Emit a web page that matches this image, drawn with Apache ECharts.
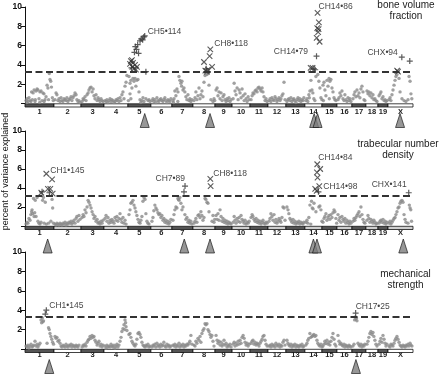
<!DOCTYPE html>
<html><head><meta charset="utf-8">
<script src="https://cdn.jsdelivr.net/npm/echarts@6/dist/echarts.min.js"></script>
<style>html,body{margin:0;padding:0;background:#fff}#c{width:440px;height:375px}</style>
</head><body><div id="c"></div>
<script>
// ---------- DATA ----------
const chrNames = ['1','2','3','4','5','6','7','8','9','10','11','12','13','14','15','16','17','18','19','X'];
const chrLenMb = [197,184,156,163,156,143,143,150,116,122,122,122,129,116,102,102,95,82,68,170];
const yTickStep = 2;
const thresholds = [3.3, 3.2, 3.3];
const panelTitles = ['bone volume\nfraction', 'trabecular number\ndensity', 'mechanical\nstrength'];
const yAxisTitle = 'percent of variance explained';

// [chromosome (20 = X), position Mb, % variance explained]
const bvfDots = [
[1,7,0.3],[1,14,0.5],[1,20,0.2],[1,27,0.6],[1,34,0.3],[1,45,1.2],[1,50,0.4],[1,55,1.1],[1,62,1.4],[1,68,0.2],[1,75,1.3],[1,82,1.5],[1,88,1.4],[1,95,0.5],[1,102,1.2],[1,109,1.3],[1,116,0.3],[1,122,1.1],[1,129,1.0],[1,136,0.4],[1,143,0.7],[1,150,1.9],[1,156,1.6],[1,165,3.1],[1,170,2.5],[1,175,2.3],[1,180,1.7],[1,186,0.6],[1,192,0.3],[1,12,0.1],[1,40,0.2],[1,70,0.4],[1,100,0.1],[1,130,0.2],[1,160,0.4],
[2,7,0.4],[2,14,1.1],[2,20,0.9],[2,27,0.3],[2,34,0.5],[2,41,0.2],[2,48,0.6],[2,54,0.3],[2,61,0.2],[2,68,0.5],[2,75,0.4],[2,82,0.3],[2,88,0.6],[2,95,0.2],[2,102,0.4],[2,109,0.5],[2,116,0.7],[2,122,0.3],[2,129,0.6],[2,136,0.8],[2,143,1.1],[2,150,0.9],[2,156,0.4],[2,163,0.2],[2,170,0.3],[2,177,0.1],
[3,7,0.2],[3,14,0.5],[3,20,0.4],[3,27,0.7],[3,34,0.3],[3,41,0.9],[3,48,1.1],[3,54,1.4],[3,61,1.6],[3,68,1.7],[3,75,1.2],[3,82,1.5],[3,88,0.8],[3,95,0.5],[3,102,0.9],[3,109,0.3],[3,116,0.6],[3,122,0.4],[3,129,0.2],[3,136,0.5],[3,143,0.3],[3,150,0.2],
[4,7,0.3],[4,14,0.2],[4,20,0.4],[4,27,0.1],[4,34,0.3],[4,41,0.5],[4,48,0.2],[4,54,0.4],[4,61,0.3],[4,68,0.1],[4,75,0.2],[4,82,0.4],[4,88,0.3],[4,95,0.5],[4,102,0.2],[4,109,0.6],[4,116,0.3],[4,122,0.9],[4,129,1.2],[4,136,0.5],[4,143,1.8],[4,150,2.2],[4,156,2.9],
[5,7,2.8],[5,14,2.1],[5,20,2.4],[5,27,1.6],[5,34,2.6],[5,41,2.3],[5,48,2.6],[5,54,1.8],[5,61,2.4],[5,68,2.5],[5,75,1.2],[5,14,1.0],[5,82,0.4],[5,95,0.3],[5,109,0.2],[5,122,0.5],[5,136,0.3],[5,150,0.2],[5,102,0.6],[5,88,0.1],[5,143,0.4],[5,20,0.5],[5,3,0.3],
[6,7,0.3],[6,14,0.5],[6,20,0.2],[6,27,0.4],[6,34,0.1],[6,41,0.6],[6,48,0.3],[6,54,0.2],[6,61,0.4],[6,68,0.5],[6,75,0.3],[6,82,0.2],[6,88,0.4],[6,95,0.6],[6,102,0.3],[6,109,0.1],[6,116,0.4],[6,122,0.3],[6,129,0.2],[6,136,0.5],
[7,7,0.3],[7,14,0.5],[7,20,1.3],[7,27,0.8],[7,34,1.5],[7,41,1.2],[7,48,2.8],[7,54,2.4],[7,61,2.1],[7,66,1.8],[7,68,2.3],[7,75,1.4],[7,82,1.6],[7,88,1.2],[7,95,0.7],[7,102,0.4],[7,109,0.9],[7,116,0.3],[7,122,0.5],[7,129,0.2],[7,136,0.4],[7,10,0.1],[7,40,0.2],
[8,7,0.3],[8,14,0.6],[8,20,1.2],[8,27,0.4],[8,34,0.8],[8,41,1.6],[8,48,0.5],[8,54,0.9],[8,61,1.3],[8,68,0.7],[8,75,2.2],[8,82,2.9],[8,95,3.0],[8,102,3.1],[8,109,1.9],[8,122,0.4],[8,136,0.2],[8,143,0.5],[8,148,0.3],
[9,7,1.4],[9,14,1.6],[9,20,0.8],[9,27,1.2],[9,34,0.5],[9,41,1.1],[9,48,0.3],[9,54,0.7],[9,61,0.9],[9,68,0.4],[9,75,0.2],[9,82,0.5],[9,88,0.3],[9,95,0.6],[9,102,0.2],[9,109,0.4],
[10,7,0.5],[10,14,2.1],[10,20,1.3],[10,27,0.9],[10,34,1.6],[10,41,0.4],[10,48,1.4],[10,54,1.1],[10,61,0.6],[10,68,1.5],[10,75,0.8],[10,82,0.3],[10,88,1.0],[10,95,0.5],[10,102,0.2],[10,109,0.7],[10,116,0.4],
[11,7,0.4],[11,14,0.8],[11,20,1.1],[11,27,1.0],[11,34,1.3],[11,41,1.4],[11,48,1.2],[11,54,1.6],[11,61,1.7],[11,68,1.5],[11,75,1.3],[11,82,1.6],[11,88,1.2],[11,95,0.7],[11,102,0.3],[11,109,0.5],[11,116,0.2],
[12,7,0.3],[12,14,0.5],[12,20,0.2],[12,27,0.6],[12,34,0.4],[12,41,0.3],[12,48,0.7],[12,54,0.5],[12,61,0.2],[12,68,0.4],[12,75,0.6],[12,82,0.3],[12,88,0.5],[12,95,0.8],[12,102,1.0],[12,109,2.2],[12,116,0.4],
[13,7,0.2],[13,14,0.4],[13,20,0.5],[13,27,0.3],[13,34,0.6],[13,41,0.2],[13,48,0.4],[13,54,0.5],[13,61,0.3],[13,68,0.1],[13,75,0.4],[13,82,0.6],[13,88,0.3],[13,95,0.5],[13,102,0.2],[13,109,0.4],[13,116,0.3],[13,122,0.6],
[14,7,0.3],[14,14,0.5],[14,20,0.2],[14,27,0.9],[14,30,0.6],[14,34,1.3],[14,41,2.4],[14,48,1.4],[14,54,1.1],[14,61,0.5],[14,68,0.3],[14,75,2.8],[14,88,3.0],[14,95,2.3],[14,102,1.6],[14,109,0.6],[14,116,0.4],
[15,7,1.9],[15,14,2.2],[15,20,1.4],[15,27,0.8],[15,34,2.4],[15,41,1.8],[15,48,2.6],[15,54,2.3],[15,61,2.5],[15,68,1.6],[15,75,1.2],[15,82,0.6],[15,88,0.4],[15,95,0.3],[15,10,0.3],[15,50,0.5],
[16,7,0.4],[16,14,0.6],[16,20,1.1],[16,27,0.8],[16,34,1.3],[16,41,0.5],[16,48,0.3],[16,54,0.9],[16,61,0.4],[16,68,0.2],[16,75,0.6],[16,82,0.3],[16,88,0.5],[16,95,0.2],
[17,7,0.5],[17,14,0.9],[17,20,1.2],[17,27,0.7],[17,34,1.4],[17,41,0.8],[17,48,1.1],[17,54,0.6],[17,61,1.5],[17,68,1.8],[17,75,1.2],[17,82,0.4],[17,88,0.3],
[18,7,1.3],[18,14,1.0],[18,20,1.2],[18,27,0.8],[18,34,1.1],[18,41,0.6],[18,48,0.9],[18,54,0.4],[18,61,0.5],[18,68,0.3],[18,75,0.2],
[19,7,0.8],[19,14,1.0],[19,20,1.2],[19,27,0.5],[19,34,0.7],[19,41,0.3],[19,48,0.4],[19,54,0.2],[19,61,0.3],
[20,7,0.4],[20,14,0.6],[20,20,0.3],[20,27,0.9],[20,34,1.4],[20,41,1.9],[20,48,2.4],[20,54,2.8],[20,61,3.0],[20,75,2.6],[20,82,1.2],[20,95,0.5],[20,109,0.3],[20,122,0.2],[20,136,0.4],[20,143,2.8],[20,150,2.3],[20,156,1.0],[20,162,0.5]
];
const bvfCross = [
[5,14,4.1],[5,20,4.4],[5,27,4.5],[5,30,3.8],[5,34,4.2],[5,41,3.6],[5,48,4.0],[5,54,3.5],[5,61,3.8],
[8,75,4.3],[8,84,3.4],[8,95,3.3],[8,102,3.5],[8,113,4.9],[8,118,5.6],[8,130,3.8],
[14,86,9.4],[14,95,8.4],[14,84,7.8],[14,93,7.7],[14,90,7.4],[14,80,6.8],[14,100,6.4],[14,39,3.7],[14,52,3.7],
[20,62,3.4],[20,68,3.3]
];
const bvfPlus = [
[5,24,3.7],[5,44,5.3],[5,50,5.9],[5,58,5.6],[5,66,6.1],[5,72,5.2],[5,82,6.5],[5,90,6.7],[5,100,6.6],[5,108,6.9],[5,114,7.0],[5,122,3.3],
[8,90,3.6],
[14,79,4.9],[14,62,3.6],[14,70,3.5],
[20,94,4.8],[20,148,4.4]
];
const bvfArrows = [[5,114],[8,116],[14,63],[14,86],[20,82]];
const bvfNotes = [['CH5•114',5,114,7.0],['CH8•118',8,118,5.6],['CH14•86',14,86,9.4],['CH14•79',14,79,4.9],['CHX•94',20,94,4.8]];

const tndDots = [
[1,7,0.2],[1,14,0.4],[1,20,0.3],[1,27,0.8],[1,34,0.6],[1,40,1.2],[1,45,1.5],[1,48,1.7],[1,52,1.3],[1,58,2.9],[1,62,1.0],[1,66,1.4],[1,70,2.7],[1,75,1.0],[1,82,3.0],[1,88,0.5],[1,95,0.3],[1,102,0.2],[1,109,0.4],[1,120,2.7],[1,125,3.0],[1,130,0.3],[1,138,2.5],[1,145,0.2],[1,160,0.3],[1,176,0.5],[1,184,2.8],[1,188,1.9],[1,194,0.3],
[2,7,0.2],[2,14,0.1],[2,20,0.3],[2,27,0.2],[2,34,0.1],[2,41,0.3],[2,48,0.2],[2,54,0.1],[2,61,0.3],[2,68,0.2],[2,75,0.4],[2,82,0.1],[2,88,0.3],[2,95,0.2],[2,102,0.4],[2,109,0.3],[2,116,0.5],[2,122,0.2],[2,129,0.4],[2,136,0.6],[2,143,0.3],[2,150,0.8],[2,156,1.0],[2,163,0.5],[2,170,1.1],[2,177,0.7],
[3,7,0.9],[3,14,1.2],[3,20,1.0],[3,27,1.7],[3,34,1.4],[3,41,2.0],[3,48,2.7],[3,54,2.5],[3,61,2.2],[3,68,1.9],[3,75,1.5],[3,82,1.2],[3,88,0.8],[3,95,1.0],[3,102,0.5],[3,109,0.7],[3,116,0.3],[3,122,0.4],[3,129,0.2],[3,136,0.5],[3,143,0.3],[3,150,0.6],
[4,7,0.8],[4,14,1.1],[4,20,0.5],[4,27,0.9],[4,34,0.3],[4,41,0.6],[4,48,0.4],[4,54,0.7],[4,61,0.5],[4,68,0.3],[4,75,0.9],[4,82,0.6],[4,88,1.0],[4,95,0.5],[4,102,0.8],[4,109,1.3],[4,116,0.7],[4,122,0.4],[4,129,0.9],[4,136,0.3],[4,143,0.6],[4,150,0.2],
[5,7,1.2],[5,14,1.7],[5,20,2.4],[5,27,2.5],[5,34,2.7],[5,41,2.2],[5,48,1.9],[5,54,1.5],[5,61,1.1],[5,68,0.7],[5,75,0.4],[5,82,0.3],[5,88,0.6],[5,95,1.0],[5,102,2.6],[5,109,3.0],[5,116,2.8],[5,122,1.3],[5,129,0.5],[5,136,0.3],[5,143,0.2],
[6,7,0.5],[6,14,0.9],[6,20,1.6],[6,27,2.2],[6,34,1.9],[6,41,1.7],[6,48,1.4],[6,54,1.2],[6,61,1.3],[6,68,0.9],[6,75,1.1],[6,82,0.6],[6,88,0.8],[6,95,0.4],[6,102,0.6],[6,109,0.3],[6,116,0.5],[6,122,0.2],[6,129,0.4],[6,136,0.7],
[7,7,0.6],[7,14,1.2],[7,20,1.7],[7,27,2.0],[7,34,1.9],[7,41,2.9],[7,45,2.8],[7,48,2.7],[7,54,3.0],[7,61,2.4],[7,68,1.7],[7,75,2.0],[7,88,1.2],[7,95,0.7],[7,102,0.9],[7,109,0.4],[7,116,0.6],[7,122,0.3],[7,129,0.5],[7,136,0.2],
[8,7,0.3],[8,14,0.5],[8,20,0.8],[8,27,0.4],[8,34,1.1],[8,41,1.2],[8,48,0.9],[8,54,1.5],[8,61,1.1],[8,68,0.6],[8,75,0.9],[8,82,2.9],[8,88,2.8],[8,95,2.5],[8,102,2.4],[8,109,1.5],[8,130,0.5],[8,136,1.1],[8,143,0.4],[8,148,0.7],
[9,7,1.1],[9,14,0.7],[9,20,1.3],[9,27,0.6],[9,34,1.7],[9,41,1.0],[9,48,0.5],[9,54,0.8],[9,61,0.4],[9,68,0.6],[9,75,0.3],[9,82,0.5],[9,88,0.2],[9,95,0.4],[9,102,0.3],[9,109,0.2],
[10,7,0.4],[10,14,1.0],[10,20,0.6],[10,27,0.3],[10,34,0.8],[10,41,0.5],[10,48,0.9],[10,54,0.4],[10,61,1.1],[10,68,0.7],[10,75,0.5],[10,82,0.3],[10,88,0.6],[10,95,0.2],[10,102,0.4],[10,109,0.3],[10,116,0.5],
[11,7,0.9],[11,14,1.2],[11,20,1.0],[11,27,0.7],[11,34,0.5],[11,41,0.8],[11,48,0.4],[11,54,0.6],[11,61,0.3],[11,68,0.5],[11,75,0.2],[11,82,0.4],[11,88,0.6],[11,95,0.3],[11,102,0.2],[11,109,0.4],[11,116,0.3],
[12,7,0.5],[12,14,0.8],[12,20,1.3],[12,27,1.0],[12,34,0.6],[12,41,1.2],[12,48,0.4],[12,54,0.7],[12,61,0.3],[12,68,0.5],[12,75,0.8],[12,82,0.6],[12,88,0.4],[12,95,0.9],[12,102,2.0],[12,109,1.9],[12,116,0.6],
[13,7,2.0],[13,14,1.7],[13,20,1.3],[13,27,0.8],[13,34,0.6],[13,41,0.4],[13,48,0.7],[13,54,0.3],[13,61,0.5],[13,68,0.2],[13,75,0.4],[13,82,0.3],[13,88,0.5],[13,95,0.2],[13,102,0.4],[13,109,0.3],[13,116,0.2],[13,122,0.4],
[14,7,0.4],[14,14,0.6],[14,20,0.3],[14,27,0.9],[14,34,2.2],[14,40,0.2],[14,45,2.6],[14,50,1.9],[14,56,1.8],[14,62,2.4],[14,75,1.5],[14,95,2.0],[14,102,2.1],[14,109,1.7],[14,116,0.5],
[15,7,0.4],[15,14,0.8],[15,20,1.0],[15,27,1.3],[15,34,0.6],[15,41,0.9],[15,48,1.1],[15,54,0.7],[15,61,1.2],[15,68,0.9],[15,75,1.4],[15,82,1.7],[15,88,1.5],[15,95,0.8],[15,100,0.3],
[16,7,1.2],[16,14,0.6],[16,20,0.9],[16,27,0.4],[16,34,1.0],[16,41,0.7],[16,48,0.5],[16,54,0.8],[16,61,0.3],[16,68,0.6],[16,75,0.4],[16,82,0.2],[16,88,0.5],[16,95,0.3],
[17,7,0.5],[17,14,0.8],[17,20,0.6],[17,27,0.9],[17,34,1.1],[17,41,1.3],[17,48,1.5],[17,54,1.0],[17,61,2.0],[17,68,1.2],[17,75,0.7],[17,82,0.4],[17,88,0.3],
[18,7,0.6],[18,14,1.1],[18,20,0.8],[18,27,0.4],[18,34,0.7],[18,41,0.5],[18,48,0.3],[18,54,0.6],[18,61,0.4],[18,68,0.2],[18,75,0.3],
[19,7,0.3],[19,14,0.5],[19,20,0.6],[19,27,0.4],[19,34,0.7],[19,41,0.3],[19,48,0.5],[19,54,0.2],[19,61,0.4],
[20,7,0.3],[20,14,0.5],[20,20,0.2],[20,27,0.4],[20,34,0.6],[20,41,0.8],[20,48,0.9],[20,54,1.2],[20,61,1.5],[20,68,1.9],[20,75,2.0],[20,82,2.4],[20,88,2.6],[20,95,2.7],[20,102,2.5],[20,109,1.2],[20,116,0.7],[20,122,0.4],[20,136,0.3],[20,145,2.2],[20,150,1.9],[20,155,1.7],[20,160,0.5]
];
const tndCross = [
[1,111,3.5],[1,145,5.5],[1,156,3.9],[1,172,3.9],[1,184,4.9],[1,188,3.4],
[8,118,4.95],[8,120,4.2],
[14,84,6.5],[14,104,6.0],[14,82,5.65],[14,86,5.1],[14,98,4.2],[14,70,3.9],[14,80,3.7]
];
const tndPlus = [[1,116,3.6],[1,166,3.5],[7,89,4.2],[7,82,3.6],[14,92,3.6],[20,141,3.5]];
const tndArrows = [[1,154],[7,84],[8,116],[14,58],[14,82],[20,104]];
const tndNotes = [['CH1•145',1,145,5.5],['CH7•89',7,89,4.2],['CH8•118',8,118,4.95],['CH14•84',14,84,6.5],['CH14•98',14,98,4.2],['CHX•141',20,141,3.5]];

const msDots = [
[1,7,0.3],[1,14,0.2],[1,20,0.4],[1,27,0.1],[1,34,0.3],[1,41,0.5],[1,48,0.2],[1,54,0.3],[1,61,0.4],[1,68,0.8],[1,75,0.3],[1,82,0.5],[1,88,0.2],[1,95,0.4],[1,102,0.6],[1,109,3.0],[1,113,2.7],[1,118,3.2],[1,122,2.8],[1,126,2.9],[1,150,0.6],[1,160,2.2],[1,165,2.0],[1,170,1.6],[1,176,1.3],[1,182,1.0],[1,188,0.7],[1,194,0.5],
[2,7,1.3],[2,14,1.1],[2,20,1.2],[2,27,0.8],[2,34,0.9],[2,41,0.6],[2,48,0.3],[2,54,0.2],[2,61,0.4],[2,68,0.3],[2,75,0.2],[2,82,0.5],[2,88,0.3],[2,95,0.2],[2,102,0.4],[2,109,0.3],[2,116,0.5],[2,122,0.2],[2,129,0.4],[2,136,0.3],[2,143,0.2],[2,150,0.4],[2,156,0.3],[2,163,0.2],[2,170,0.4],
[3,7,0.2],[3,14,0.4],[3,20,0.3],[3,27,0.5],[3,34,0.3],[3,41,0.7],[3,48,0.9],[3,54,1.0],[3,61,1.3],[3,68,1.1],[3,75,1.4],[3,82,1.2],[3,88,1.3],[3,95,0.9],[3,102,0.7],[3,109,0.4],[3,116,0.6],[3,122,0.8],[3,129,0.3],[3,136,0.5],[3,143,0.2],[3,150,0.4],
[4,7,0.3],[4,14,0.1],[4,20,0.4],[4,27,0.2],[4,34,0.3],[4,41,0.2],[4,48,0.5],[4,54,0.3],[4,61,0.2],[4,68,0.4],[4,75,0.1],[4,82,0.3],[4,88,0.5],[4,95,0.2],[4,102,0.4],[4,109,0.8],[4,116,1.2],[4,122,1.8],[4,129,2.1],[4,136,2.5],[4,140,2.0],[4,143,3.0],[4,147,2.7],[4,150,2.3],[4,156,1.9],
[5,7,1.5],[5,14,1.6],[5,20,1.2],[5,27,0.8],[5,34,0.6],[5,41,0.4],[5,48,0.3],[5,54,0.5],[5,61,1.0],[5,68,1.6],[5,75,1.7],[5,82,1.5],[5,88,1.2],[5,95,0.7],[5,102,0.4],[5,109,0.3],[5,116,0.2],[5,122,0.4],[5,129,0.3],[5,136,0.5],[5,143,0.2],[5,150,0.3],
[6,7,0.2],[6,14,0.4],[6,20,0.3],[6,27,0.5],[6,34,0.2],[6,41,0.6],[6,48,0.3],[6,54,0.4],[6,61,0.2],[6,68,0.5],[6,75,0.3],[6,82,0.4],[6,88,0.7],[6,95,0.3],[6,102,0.2],[6,109,0.5],[6,116,0.3],[6,122,0.4],[6,129,0.2],[6,136,0.3],
[7,7,0.4],[7,14,0.3],[7,20,0.5],[7,27,0.2],[7,34,0.4],[7,41,0.3],[7,48,0.6],[7,54,0.2],[7,61,0.4],[7,68,0.3],[7,75,0.5],[7,82,0.2],[7,88,0.4],[7,95,0.3],[7,102,0.5],[7,109,0.4],[7,116,0.6],[7,122,0.8],[7,129,1.4],[7,136,0.5],
[8,7,0.4],[8,14,0.3],[8,20,0.8],[8,27,0.6],[8,34,1.1],[8,41,0.9],[8,48,1.3],[8,54,0.7],[8,61,1.6],[8,68,1.9],[8,75,2.1],[8,82,2.6],[8,88,2.5],[8,95,2.6],[8,102,2.0],[8,109,1.8],[8,116,1.5],[8,122,1.2],[8,129,1.4],[8,136,0.8],[8,143,0.3],
[9,7,1.4],[9,14,0.9],[9,20,0.6],[9,27,0.8],[9,34,0.4],[9,41,0.7],[9,48,0.3],[9,54,0.5],[9,61,0.9],[9,68,0.4],[9,75,0.6],[9,82,0.2],[9,88,0.4],[9,95,0.3],[9,102,0.5],[9,109,0.2],
[10,7,0.5],[10,14,0.7],[10,20,0.3],[10,27,0.6],[10,34,0.4],[10,41,0.8],[10,48,0.5],[10,54,0.9],[10,61,0.6],[10,68,1.2],[10,75,1.4],[10,82,1.1],[10,88,0.7],[10,95,0.4],[10,102,0.6],[10,109,0.3],[10,116,0.5],
[11,7,0.6],[11,14,0.8],[11,20,0.9],[11,27,0.5],[11,34,0.7],[11,41,0.4],[11,48,0.6],[11,54,0.5],[11,61,0.3],[11,68,0.6],[11,75,0.8],[11,82,1.0],[11,88,1.3],[11,95,1.4],[11,102,0.9],[11,109,0.5],[11,116,0.3],
[12,7,0.3],[12,14,0.4],[12,20,0.2],[12,27,0.5],[12,34,0.3],[12,41,0.4],[12,48,0.2],[12,54,0.6],[12,61,0.4],[12,68,0.3],[12,75,0.5],[12,82,0.2],[12,88,0.4],[12,95,0.3],[12,102,0.7],[12,109,0.9],[12,116,0.4],
[13,7,0.9],[13,14,0.6],[13,20,0.4],[13,27,0.3],[13,34,0.5],[13,41,0.2],[13,48,0.4],[13,54,0.3],[13,61,0.5],[13,68,0.2],[13,75,0.4],[13,82,0.3],[13,88,0.2],[13,95,0.4],[13,102,0.3],[13,109,0.5],[13,116,0.2],[13,122,0.3],
[14,7,0.4],[14,14,0.6],[14,20,0.9],[14,27,1.1],[14,34,1.6],[14,41,1.2],[14,48,1.3],[14,54,1.4],[14,61,1.5],[14,68,1.3],[14,75,1.4],[14,82,0.9],[14,88,0.6],[14,95,0.4],[14,102,0.3],[14,109,0.5],[14,116,0.2],
[15,7,0.3],[15,14,0.5],[15,20,0.8],[15,27,0.6],[15,34,0.9],[15,41,0.5],[15,48,0.7],[15,54,0.4],[15,61,0.8],[15,68,1.2],[15,75,1.6],[15,82,1.0],[15,88,0.5],[15,95,0.3],
[16,7,1.4],[16,14,0.8],[16,20,0.5],[16,27,0.6],[16,34,0.4],[16,41,0.3],[16,48,0.5],[16,54,0.2],[16,61,0.4],[16,68,0.3],[16,75,0.2],[16,82,0.4],[16,88,0.3],[16,95,0.2],
[17,7,0.3],[17,14,0.5],[17,18,3.0],[17,22,3.3],[17,27,3.1],[17,31,3.2],[17,34,2.9],[17,41,0.6],[17,48,0.4],[17,54,0.3],[17,61,0.5],[17,68,0.2],[17,75,0.4],[17,82,0.3],[17,88,0.5],
[18,7,0.5],[18,14,0.8],[18,20,1.2],[18,27,1.6],[18,34,1.8],[18,41,1.5],[18,48,1.7],[18,54,1.3],[18,61,0.9],[18,68,0.5],[18,75,0.3],
[19,7,0.5],[19,14,0.8],[19,20,1.1],[19,27,0.7],[19,34,1.4],[19,41,1.0],[19,48,0.6],[19,54,0.3],[19,61,0.5],
[20,7,0.3],[20,14,0.2],[20,20,0.5],[20,27,0.4],[20,34,0.3],[20,41,0.6],[20,48,0.9],[20,54,1.1],[20,61,1.3],[20,68,1.0],[20,75,0.7],[20,82,0.4],[20,88,0.3],[20,95,0.2],[20,102,0.4],[20,109,0.3],[20,116,0.2],[20,122,0.4],[20,129,0.3],[20,136,0.5],[20,143,0.3],[20,150,0.6],[20,156,0.4],[20,163,0.3]
];
const msCross = [];
const msPlus = [[1,145,4.0],[1,138,3.6],[17,25,3.7]];
const msArrows = [[1,165],[17,27]];
const msNotes = [['CH1•145',1,145,4.0],['CH17•25',17,25,3.7]];

// ---------- LAYOUT / STYLE ----------
const FONT = "'Liberation Sans', Arial, sans-serif";
const L = {
  grids: [{left:25,width:388,top:7,height:96.5},{left:25,width:388,top:131,height:95},{left:25,width:388,top:252,height:97}],
  titleX: [406, 398, 405.5], titleTop: [0, 138.5, 268.5],
  arrowOffset: [17, 20, 17.5], labelMargin: [4.5, 3, 2],
  bandLight: ['#ffffff', '#cfcfcf', '#ffffff'], bandDark: '#555555',
  noteOffsets: [
    [[3,-4,'left'],[4,-6,'left'],[1,-6,'left'],[-8.5,-4.5,'right'],[-4,-5,'right']],
    [[4,-3,'left'],[0,-7,'right'],[3,-5,'left'],[1,-7,'left'],[4,1,'left'],[-2,-8.4,'right']],
    [[3,-5,'left'],[0,-6.5,'left']]
  ]
};

const chrStart = []; let acc = 0;
chrLenMb.forEach(l => { chrStart.push(acc); acc += l; });
const genomeLen = acc;
const toX = (c, mb) => chrStart[c - 1] + mb;
const mids = chrLenMb.map((l, i) => chrStart[i] + l / 2);

const panels = [
  {dots: bvfDots, cross: bvfCross, plus: bvfPlus, arrows: bvfArrows, notes: bvfNotes},
  {dots: tndDots, cross: tndCross, plus: tndPlus, arrows: tndArrows, notes: tndNotes},
  {dots: msDots, cross: msCross, plus: msPlus, arrows: msArrows, notes: msNotes}
];

const grid = [], xAxis = [], yAxis = [], series = [], title = [];
panels.forEach((P, p) => {
  grid.push(L.grids[p]);
  xAxis.push({
    gridIndex: p, type: 'value', min: 0, max: genomeLen,
    axisLine: {show: false}, axisTick: {show: false}, splitLine: {show: false},
    axisLabel: {
      customValues: mids, margin: L.labelMargin[p], fontSize: 7.5, fontWeight: 'bold', color: '#222', fontFamily: FONT,
      formatter: v => { const i = mids.findIndex(m => Math.abs(m - v) < 0.01); return i >= 0 ? chrNames[i] : ''; }
    }
  });
  yAxis.push({
    gridIndex: p, type: 'value', min: 0, max: 10, interval: yTickStep,
    axisLine: {show: true, lineStyle: {color: '#111', width: 1}},
    axisTick: {show: true, length: 4, lineStyle: {color: '#111'}},
    splitLine: {show: false},
    axisLabel: {fontSize: 8.5, fontWeight: 'bold', color: '#111', margin: 3, fontFamily: FONT,
      formatter: v => v === 0 ? '' : String(v)}
  });
  // chromosome band
  series.push({
    type: 'custom', xAxisIndex: p, yAxisIndex: p, clip: false, silent: true, z: 1,
    data: chrLenMb.map((l, i) => [chrStart[i], chrStart[i] + l, i, 0]),
    encode: {x: [0, 1], y: 3},
    renderItem: (params, api) => {
      const a = api.coord([api.value(0), 0]);
      const b = api.coord([api.value(1), 0]);
      return {type: 'rect', shape: {x: a[0], y: a[1] + 0.3, width: b[0] - a[0], height: 3.2},
        style: {fill: api.value(2) % 2 === 0 ? L.bandDark : L.bandLight[p], stroke: '#111', lineWidth: 0.8}};
    }
  });
  // background dots + threshold
  series.push({
    type: 'scatter', xAxisIndex: p, yAxisIndex: p, symbol: 'circle', symbolSize: 3.4, z: 2,
    itemStyle: {color: '#8a8a8a'},
    data: P.dots.map(d => [toX(d[0], d[1]), d[2]]),
    markLine: {silent: true, symbol: 'none', label: {show: false},
      lineStyle: {type: [7, 3.5], width: 1.8, color: '#333'},
      data: [{yAxis: thresholds[p]}]}
  });
  series.push({
    type: 'scatter', xAxisIndex: p, yAxisIndex: p, symbol: 'path://M0,0L10,10M10,0L0,10', symbolSize: 5.5, z: 3,
    itemStyle: {color: 'none', borderColor: '#333', borderWidth: 1.1},
    data: P.cross.map(d => [toX(d[0], d[1]), d[2]])
  });
  series.push({
    type: 'scatter', xAxisIndex: p, yAxisIndex: p, symbol: 'path://M5,0L5,10M0,5L10,5', symbolSize: 6, z: 3,
    itemStyle: {color: 'none', borderColor: '#333', borderWidth: 1.2},
    data: P.plus.map(d => [toX(d[0], d[1]), d[2]])
  });
  // arrows below axis
  series.push({
    type: 'scatter', xAxisIndex: p, yAxisIndex: p, symbol: 'triangle', symbolSize: [9, 14], clip: false, z: 4,
    symbolOffset: [0, L.arrowOffset[p]],
    itemStyle: {color: '#7d7d7d', borderColor: '#111', borderWidth: 0.8},
    data: P.arrows.map(a => [toX(a[0], a[1]), 0])
  });
  // annotations
  series.push({
    type: 'scatter', xAxisIndex: p, yAxisIndex: p, symbol: 'circle', symbolSize: 1, z: 5, silent: true,
    itemStyle: {color: 'transparent'},
    data: P.notes.map((n, i) => {
      const o = L.noteOffsets[p][i];
      return {value: [toX(n[1], n[2]), n[3]],
        label: {show: true, formatter: n[0], position: [0.5 + o[0], 0.5 + o[1]], align: o[2], verticalAlign: 'middle',
          fontSize: 8.5, color: '#111', fontFamily: FONT}};
    })
  });
  title.push({text: panelTitles[p], left: L.titleX[p], top: L.titleTop[p], textAlign: 'center', padding: 0,
    textStyle: {fontSize: 10, fontWeight: 'normal', color: '#222', lineHeight: 11, fontFamily: FONT}});
});

const chart = echarts.init(document.getElementById('c'), null, {renderer: 'canvas'});
chart.setOption({
  animation: false, backgroundColor: '#fff',
  title, grid, xAxis, yAxis, series,
  graphic: [{type: 'text', x: 6, y: 171.5, rotation: Math.PI / 2,
    style: {text: yAxisTitle, fontSize: 9, fill: '#111', fontFamily: FONT, align: 'center', verticalAlign: 'middle'}}]
});
</script></body></html>
